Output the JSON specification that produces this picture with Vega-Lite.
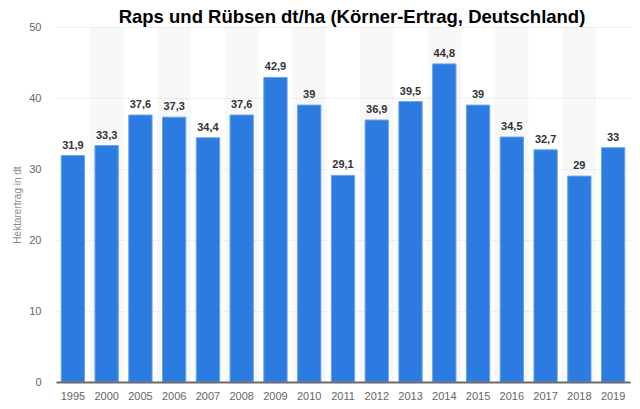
{
  "$schema": "https://vega.github.io/schema/vega-lite/v6.json",
  "width": 574,
  "height": 355,
  "autosize": {"type": "none"},
  "padding": {"left": 56, "top": 27, "right": 10, "bottom": 27},
  "background": "white",
  "config": {
    "view": {"stroke": null},
    "locale": {"number": {"decimal": ",", "thousands": ".", "grouping": [3], "currency": ["", " €"]}},
    "font": "Liberation Sans",
    "axisY": {
      "titleFontSize": 10,
      "titleFontWeight": "normal",
      "titleColor": "#888888",
      "titlePadding": 6,
      "domain": false,
      "ticks": false,
      "labelColor": "#666666",
      "labelFontSize": 11,
      "labelPadding": 15,
      "grid": true,
      "gridColor": "#d8d8d8",
      "gridDash": [1, 2]
    }
  },
  "title": {
    "text": "Raps und Rübsen dt/ha (Körner-Ertrag, Deutschland)",
    "font": "Liberation Sans",
    "fontSize": 18.5,
    "fontWeight": "bold",
    "color": "#000000",
    "anchor": "middle",
    "dx": 9,
    "dy": 8,
    "offset": 3
  },
  "data": {
    "values": [
      {"Jahr": "1995", "Ertrag": 31.9},
      {"Jahr": "2000", "Ertrag": 33.3},
      {"Jahr": "2005", "Ertrag": 37.6},
      {"Jahr": "2006", "Ertrag": 37.3},
      {"Jahr": "2007", "Ertrag": 34.4},
      {"Jahr": "2008", "Ertrag": 37.6},
      {"Jahr": "2009", "Ertrag": 42.9},
      {"Jahr": "2010", "Ertrag": 39},
      {"Jahr": "2011", "Ertrag": 29.1},
      {"Jahr": "2012", "Ertrag": 36.9},
      {"Jahr": "2013", "Ertrag": 39.5},
      {"Jahr": "2014", "Ertrag": 44.8},
      {"Jahr": "2015", "Ertrag": 39},
      {"Jahr": "2016", "Ertrag": 34.5},
      {"Jahr": "2017", "Ertrag": 32.7},
      {"Jahr": "2018", "Ertrag": 29},
      {"Jahr": "2019", "Ertrag": 33}
    ]
  },
  "encoding": {
    "x": {
      "field": "Jahr",
      "type": "nominal",
      "sort": ["1995","2000","2005","2006","2007","2008","2009","2010","2011","2012","2013","2014","2015","2016","2017","2018","2019"],
      "scale": {"paddingInner": 0, "paddingOuter": 0},
      "axis": {
        "title": null,
        "labelAngle": 0,
        "ticks": false,
        "domainColor": "#6b6b6b",
        "domainWidth": 2,
        "labelColor": "#666666",
        "labelFontSize": 11,
        "labelPadding": 8,
        "grid": false
      }
    }
  },
  "layer": [
    {
      "transform": [
        {"window": [{"op": "row_number", "as": "i"}]},
        {"filter": "datum.i % 2 == 0"}
      ],
      "mark": {"type": "rect", "color": "#000000", "opacity": 0.028},
      "encoding": {
        "y": {"datum": 50, "type": "quantitative", "scale": {"domain": [0, 50]},
          "axis": {"title": "Hektarertrag in dt", "values": [0, 10, 20, 30, 40, 50]}},
        "y2": {"datum": 0}
      }
    },
    {
      "mark": {"type": "bar", "color": "#2c7be0", "stroke": "#6aa3ea", "strokeWidth": 1, "width": {"band": 0.69}},
      "encoding": {
        "y": {
          "field": "Ertrag",
          "type": "quantitative",
          "scale": {"domain": [0, 50]},
          "axis": {"title": "Hektarertrag in dt", "values": [0, 10, 20, 30, 40, 50]}
        }
      }
    },
    {
      "mark": {"type": "text", "baseline": "bottom", "dy": -5, "fontWeight": "bold", "fontSize": 11, "color": "#333333"},
      "encoding": {
        "y": {"field": "Ertrag", "type": "quantitative"},
        "text": {"field": "Ertrag", "type": "quantitative", "format": ".1~f"}
      }
    }
  ]
}
